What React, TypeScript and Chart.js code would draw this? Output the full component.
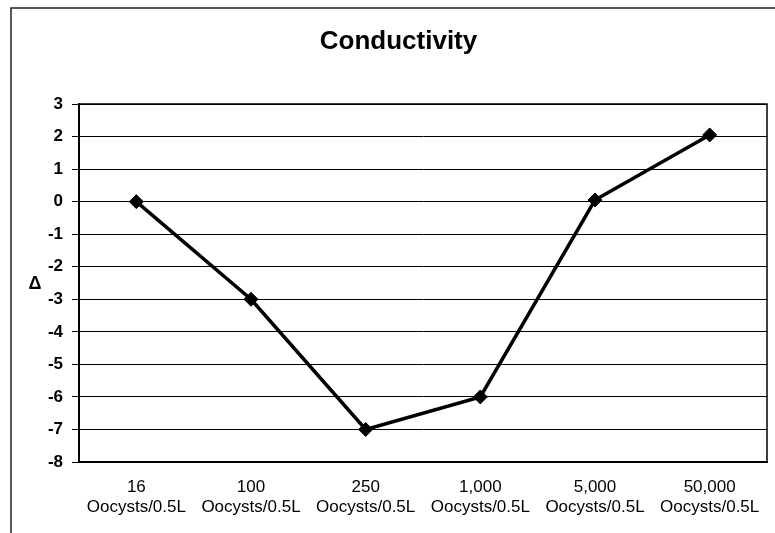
import React, { useEffect, useRef } from "react";
import { Chart, registerables } from "chart.js";

Chart.register(...registerables);

const categories: string[][] = [
  ["16", "Oocysts/0.5L"],
  ["100", "Oocysts/0.5L"],
  ["250", "Oocysts/0.5L"],
  ["1,000", "Oocysts/0.5L"],
  ["5,000", "Oocysts/0.5L"],
  ["50,000", "Oocysts/0.5L"],
];
const deltaValues: number[] = [0, -3, -7, -6, 0.05, 2.05];
const titleText = "Conductivity";
const yAxisLabel = "Δ";
const yMin = -8;
const yMax = 3;

const FONT = "'Liberation Sans', Arial, Helvetica, sans-serif";

const framePlugin = {
  id: "framePlugin",
  beforeDraw(chart: any) {
    const ctx = chart.ctx;
    ctx.save();
    ctx.fillStyle = "#ffffff";
    ctx.fillRect(0, 0, chart.width, chart.height);
    ctx.strokeStyle = "#222";
    ctx.lineWidth = 1.5;
    ctx.beginPath();
    ctx.moveTo(11, chart.height);
    ctx.lineTo(11, 8);
    ctx.lineTo(chart.width, 8);
    ctx.stroke();
    ctx.restore();
  },
  afterDraw(chart: any) {
    const ctx = chart.ctx;
    const a = chart.chartArea;
    ctx.save();
    ctx.strokeStyle = "#000";
    ctx.lineWidth = 1.5;
    ctx.beginPath();
    ctx.moveTo(a.left, a.top);
    ctx.lineTo(a.right, a.top);
    ctx.lineTo(a.right, a.bottom);
    ctx.stroke();
    ctx.fillStyle = "#000";
    ctx.font = `bold 18px ${FONT}`;
    ctx.textAlign = "center";
    ctx.textBaseline = "middle";
    ctx.fillText(yAxisLabel, 35, 284);
    ctx.restore();
  },
};

export default function App() {
  const ref = useRef<HTMLCanvasElement | null>(null);
  useEffect(() => {
    if (!ref.current) return;
    const chart = new Chart(ref.current, {
      type: "line",
      data: {
        labels: categories,
        datasets: [
          {
            data: deltaValues,
            borderColor: "#000",
            backgroundColor: "#000",
            borderWidth: 3.5,
            pointStyle: "rectRot",
            pointRadius: 7,
            pointBorderWidth: 1,
            tension: 0,
          },
        ],
      },
      options: {
        animation: false,
        responsive: false,
        maintainAspectRatio: false,
        layout: { padding: { left: 28, right: 6, top: 0, bottom: 0 } },
        plugins: {
          legend: { display: false },
          tooltip: { enabled: false },
          title: {
            display: true,
            text: titleText,
            color: "#000",
            font: { family: FONT, size: 26, weight: "bold", lineHeight: 1.2 },
            padding: { top: 26.4, bottom: 46.4 },
          },
        },
        scales: {
          x: {
            offset: true,
            grid: { display: false, drawTicks: false },
            border: { display: true, color: "#000", width: 2 },
            ticks: {
              color: "#000",
              padding: 15,
              maxRotation: 0,
              autoSkip: false,
              font: { family: FONT, size: 17, lineHeight: 1.2 },
            },
            afterFit(scale: any) {
              scale.height = 71;
            },
          },
          y: {
            min: yMin,
            max: yMax,
            grid: { color: "#000", lineWidth: 1, tickLength: 7, drawTicks: true },
            border: { display: true, color: "#000", width: 2 },
            ticks: {
              stepSize: 1,
              color: "#000",
              padding: 9,
              font: { family: FONT, size: 17, weight: "bold" },
            },
            afterFit(scale: any) {
              scale.width = 51;
            },
          },
        },
      },
      plugins: [framePlugin],
    });
    return () => chart.destroy();
  }, []);
  return (
    <div style={{ position: "fixed", left: 0, top: 0, width: 775, height: 533 }}>
      <canvas ref={ref} width={775} height={533} />
    </div>
  );
}
